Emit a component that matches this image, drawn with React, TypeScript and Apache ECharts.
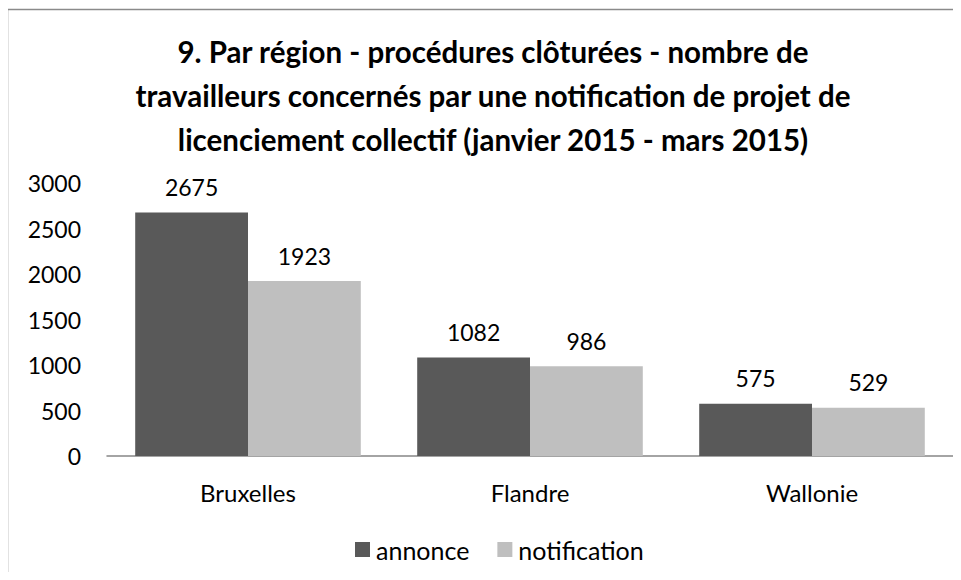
import React, { useEffect, useRef } from "react";
import * as echarts from "echarts";

const titleText =
  "9. Par région - procédures clôturées - nombre de\ntravailleurs concernés par une notification de projet de\nlicenciement collectif (janvier 2015 - mars 2015)";
const categories = ["Bruxelles", "Flandre", "Wallonie"];
const annonce = [2675, 1082, 575];
const notification = [1923, 986, 529];
const seriesNames = ["annonce", "notification"];

const FONT = "Lato, 'Open Sans', sans-serif";

export default function App() {
  const ref = useRef<HTMLDivElement>(null);
  useEffect(() => {
    if (!ref.current) return;
    const chart = echarts.init(ref.current, null, { renderer: "svg" });
    const labelStyle = {
      show: true,
      position: "top",
      distance: 14,
      fontFamily: FONT,
      fontSize: 23,
      color: "#000",
    };
    chart.setOption({
      animation: false,
      backgroundColor: "#fff",
      textStyle: { fontFamily: FONT, color: "#000" },
      graphic: [
        {
          type: "rect",
          shape: { x: 7.5, y: 9.5, width: 1200, height: 1000 },
          style: { fill: "none", stroke: "#8a8a8a", lineWidth: 1.5 },
          silent: true,
          z: -1,
        },
      ],
      title: {
        text: titleText,
        left: 488,
        textAlign: "center",
        top: 24,
        textStyle: {
          fontFamily: FONT,
          fontSize: 29.5,
          fontWeight: "bold",
          color: "#000",
          lineHeight: 44,
        },
      },
      legend: {
        data: seriesNames,
        left: 350,
        top: 532,
        icon: "rect",
        itemWidth: 15,
        itemHeight: 15,
        itemGap: 28,
        textStyle: { fontFamily: FONT, fontSize: 25, color: "#000", padding: [0, 0, 0, 1] },
      },
      grid: { left: 107, right: 8, top: 183, bottom: 124 },
      xAxis: {
        type: "category",
        data: categories,
        axisLine: { lineStyle: { color: "#868686", width: 1.5 } },
        axisTick: { show: false },
        axisLabel: { fontFamily: FONT, fontSize: 24, color: "#000", margin: 24 },
      },
      yAxis: {
        type: "value",
        min: 0,
        max: 3000,
        interval: 500,
        axisLine: { show: false },
        axisTick: { show: false },
        splitLine: { show: false },
        axisLabel: {
          fontFamily: FONT,
          fontSize: 23,
          color: "#000",
          margin: 26,
          formatter: (v: number) => String(v),
        },
      },
      series: [
        {
          name: seriesNames[0],
          type: "bar",
          data: annonce,
          barGap: "0%",
          barCategoryGap: "20%",
          itemStyle: { color: "#595959" },
          label: labelStyle,
        },
        {
          name: seriesNames[1],
          type: "bar",
          data: notification,
          barGap: "0%",
          barCategoryGap: "20%",
          itemStyle: { color: "#bfbfbf" },
          label: labelStyle,
        },
      ],
    });
    return () => chart.dispose();
  }, []);
  return <div ref={ref} style={{ width: 961, height: 580, margin: -8 }} />;
}
